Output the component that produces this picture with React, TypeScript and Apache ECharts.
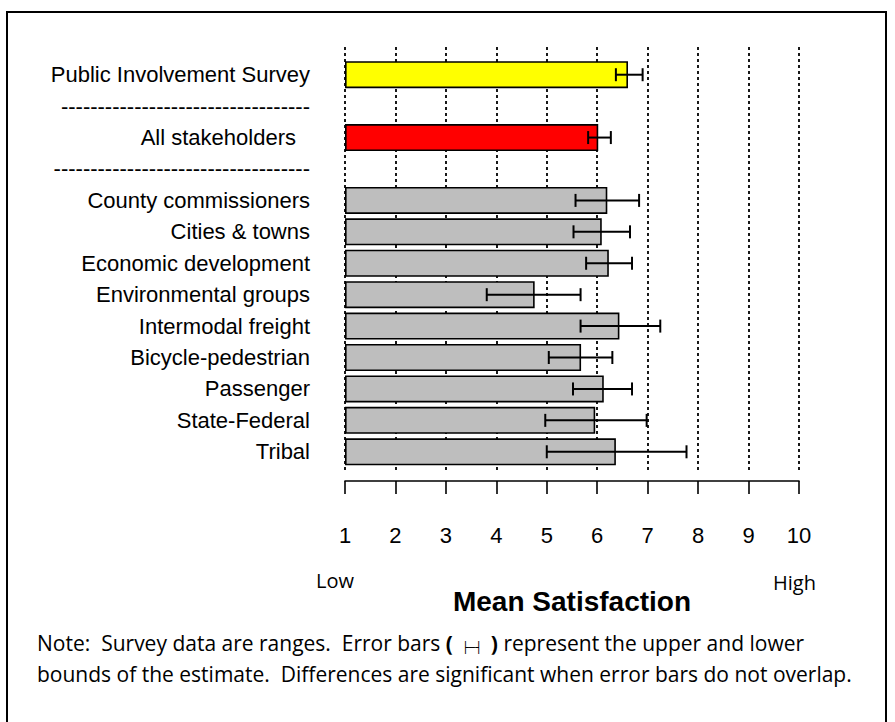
import React, { useEffect, useRef } from "react";
import * as echarts from "echarts";

// ---- data ----
const rowLabels = [
  "Public Involvement Survey",
  "All stakeholders",
  "County commissioners",
  "Cities & towns",
  "Economic development",
  "Environmental groups",
  "Intermodal freight",
  "Bicycle-pedestrian",
  "Passenger",
  "State-Federal",
  "Tribal",
];
const meanValues = [6.61, 6.02, 6.2, 6.09, 6.23, 4.76, 6.44, 5.68, 6.13, 5.96, 6.37];
const lowerBounds = [6.37, 5.82, 5.57, 5.53, 5.78, 3.81, 5.67, 5.04, 5.52, 4.97, 5.0];
const upperBounds = [6.9, 6.27, 6.83, 6.65, 6.69, 5.67, 7.25, 6.3, 6.69, 6.98, 7.77];
const tickLabels = ["1", "2", "3", "4", "5", "6", "7", "8", "9", "10"];
const separatorA = "-".repeat(34);
const separatorB = "-".repeat(35);

// ---- styles ----
const YELLOW = "#FFFF00";
const RED = "#FF0000";
const GRAY = "#BEBEBE";
const LABEL_FONT = "'Liberation Sans', Arial, sans-serif";
const NOTE_FONT = "'Open Sans', Lato, sans-serif";

const categories = [rowLabels[0], separatorA, rowLabels[1], separatorB, ...rowLabels.slice(2)];
const rowSlots = rowLabels.map((_, i) => (i === 0 ? 0 : i === 1 ? 2 : i + 2));
const rowColor = (i: number) => (i === 0 ? YELLOW : i === 1 ? RED : GRAY);

export default function App() {
  const ref = useRef<HTMLDivElement>(null);
  useEffect(() => {
    if (!ref.current) return;
    const chart = echarts.init(ref.current, undefined, { renderer: "svg" });

    const baseData: any[] = categories.map(() => "-");
    const barData: any[] = categories.map(() => "-");
    rowLabels.forEach((_, i) => {
      const s = rowSlots[i];
      baseData[s] = 1;
      barData[s] = {
        value: +(meanValues[i] - 1).toFixed(4),
        itemStyle: { color: rowColor(i), borderColor: "#000", borderWidth: 1.6 },
      };
    });

    const errData = rowLabels.map((_, i) => [rowSlots[i], lowerBounds[i], upperBounds[i]]);

    const option: any = {
      animation: false,
      backgroundColor: "#fff",
      grid: [
        { left: 345, width: 454, top: 47, height: 423 },
        { left: 345, width: 454, top: 59, height: 408.5 },
        { left: 345, width: 454, top: 470, height: 11 },
      ],
      xAxis: [
        {
          gridIndex: 0,
          type: "value",
          min: 1,
          max: 10,
          interval: 1,
          axisLine: { show: false },
          axisTick: { show: false },
          axisLabel: { show: false },
          splitLine: { show: true, lineStyle: { color: "#000", width: 1.8, type: [3, 3] } },
        },
        { gridIndex: 1, type: "value", min: 1, max: 10, show: false },
        {
          gridIndex: 2,
          type: "value",
          min: 1,
          max: 10,
          interval: 1,
          position: "bottom",
          axisLine: { show: true, lineStyle: { color: "#000", width: 1.6 } },
          axisTick: { show: true, length: 13, lineStyle: { color: "#000", width: 1.6 } },
          axisLabel: {
            margin: 43,
            fontSize: 22,
            fontFamily: LABEL_FONT,
            color: "#000",
            formatter: (v: number) => tickLabels[Math.round(v) - 1] ?? "",
          },
          splitLine: { show: false },
          name: "Mean Satisfaction",
          nameLocation: "middle",
          nameGap: 106,
          nameTextStyle: { fontSize: 28, fontWeight: "bold", fontFamily: LABEL_FONT, color: "#000" },
        },
      ],
      yAxis: [
        { gridIndex: 0, type: "value", show: false },
        {
          gridIndex: 1,
          type: "category",
          inverse: true,
          data: categories,
          axisLine: { show: false },
          axisTick: { show: false },
          splitLine: { show: false },
          axisLabel: {
            margin: 35,
            fontSize: 22,
            fontFamily: LABEL_FONT,
            color: "#000",
            interval: 0,
            formatter: (v: string) => (v === rowLabels[1] ? `{pad|${v}}` : v),
            rich: {
              pad: { padding: [0, 14, 0, 0], fontSize: 22, fontFamily: LABEL_FONT, color: "#000" },
            },
          },
        },
        { gridIndex: 2, type: "value", show: false },
      ],
      series: [
        {
          type: "bar",
          xAxisIndex: 1,
          yAxisIndex: 1,
          stack: "s",
          barWidth: 27,
          itemStyle: { color: "rgba(0,0,0,0)" },
          data: baseData,
          silent: true,
        },
        {
          type: "bar",
          name: "Mean Satisfaction",
          xAxisIndex: 1,
          yAxisIndex: 1,
          stack: "s",
          barWidth: 27,
          data: barData,
        },
        {
          type: "custom",
          name: "Bounds",
          xAxisIndex: 1,
          yAxisIndex: 1,
          z: 10,
          encode: { x: [1, 2], y: 0 },
          data: errData,
          renderItem: (_p: any, api: any) => {
            const slot = api.value(0);
            const a = api.coord([api.value(1), slot]);
            const b = api.coord([api.value(2), slot]);
            const half = 6.5;
            const style = { stroke: "#000", lineWidth: 2 };
            return {
              type: "group",
              children: [
                { type: "line", shape: { x1: a[0], y1: a[1], x2: b[0], y2: b[1] }, style },
                { type: "line", shape: { x1: a[0], y1: a[1] - half, x2: a[0], y2: a[1] + half }, style },
                { type: "line", shape: { x1: b[0], y1: b[1] - half, x2: b[0], y2: b[1] + half }, style },
              ],
            };
          },
        },
      ],
      graphic: [
        {
          type: "rect",
          shape: { x: 7, y: 12, width: 879, height: 730 },
          style: { fill: "none", stroke: "#000", lineWidth: 2 },
          silent: true,
        },
        {
          type: "text",
          x: 316,
          y: 580,
          style: { text: "Low", font: `20px ${NOTE_FONT}`, fill: "#000", verticalAlign: "middle" },
        },
        {
          type: "text",
          x: 773,
          y: 582,
          style: { text: "High", font: `20px ${NOTE_FONT}`, fill: "#000", verticalAlign: "middle" },
        },
        {
          type: "text",
          x: 37,
          y: 643,
          style: {
            text:
              "{a|Note:  Survey data are ranges.  Error bars }{b|(}{s|├─┤}{b|)}{a| represent the upper and lower}",
            verticalAlign: "middle",
            rich: {
              a: { fontSize: 21, fontFamily: NOTE_FONT, fill: "#000" },
              b: { fontSize: 21, fontFamily: NOTE_FONT, fontWeight: "bold", fill: "#000" },
              s: {
                fontSize: 11,
                fontFamily: "'DejaVu Sans'",
                fontWeight: "bold",
                fill: "#000",
                padding: [8, 9, 0, 9],
              },
            },
          },
        },
        {
          type: "text",
          x: 37,
          y: 674,
          style: {
            text: "bounds of the estimate.  Differences are significant when error bars do not overlap.",
            font: `21px ${NOTE_FONT}`,
            fill: "#000",
            verticalAlign: "middle",
          },
        },
      ],
    };
    chart.setOption(option);
    return () => chart.dispose();
  }, []);
  return (
    <div
      ref={ref}
      style={{ position: "fixed", left: 0, top: 0, width: 895, height: 722, background: "#fff" }}
    />
  );
}
